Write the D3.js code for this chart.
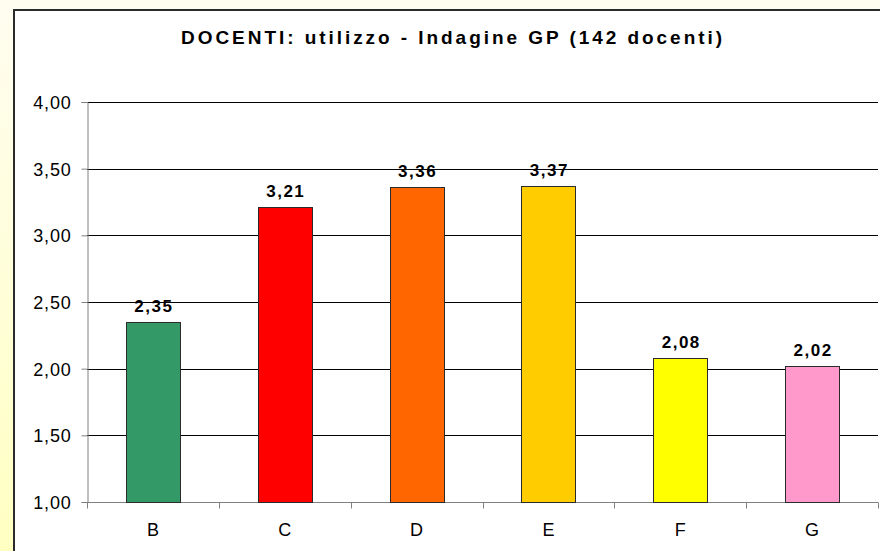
<!DOCTYPE html>
<html>
<head>
<meta charset="utf-8">
<script src="https://cdn.jsdelivr.net/npm/d3@7"></script>
<style>
  html, body { margin: 0; padding: 0; background: #fffff0; }
  svg { display: block; }
</style>
</head>
<body>
<div id="chart"></div>
<script>
// data
const categories = ["B", "C", "D", "E", "F", "G"];
const values = [2.35, 3.21, 3.36, 3.37, 2.08, 2.02];
const barColors = ["#339966", "#ff0000", "#ff6600", "#ffcc00", "#ffff00", "#ff99cc"];
const yTicks = [1.0, 1.5, 2.0, 2.5, 3.0, 3.5, 4.0];
const titleText = "DOCENTI: utilizzo - Indagine GP (142 docenti)";

const width = 880, height = 551;
const margin = { left: 87, right: 2, top: 102, bottom: 49 };
const font = "'Liberation Sans', Arial, sans-serif";

const svg = d3.select("#chart").append("svg")
    .attr("width", width)
    .attr("height", height);

// yellowish page background
const defs = svg.append("defs");
const grad = defs.append("linearGradient")
    .attr("id", "bg")
    .attr("x1", 0).attr("y1", 0).attr("x2", 0).attr("y2", 1);
grad.append("stop").attr("offset", "0%").attr("stop-color", "#fffdf0");
grad.append("stop").attr("offset", "100%").attr("stop-color", "#ffffc2");

svg.append("rect")
    .attr("width", width).attr("height", height)
    .attr("fill", "url(#bg)");

// white chart box (runs off the right and bottom edge)
svg.append("rect")
    .attr("x", 14).attr("y", 10)
    .attr("width", width + 20).attr("height", height + 20)
    .attr("fill", "#ffffff")
    .attr("stroke", "#2b2b2b")
    .attr("stroke-width", 2);

const x = d3.scaleBand()
    .domain(categories)
    .range([margin.left, width - margin.right])
    .padding(0);

const y = d3.scaleLinear()
    .domain([1, 4])
    .range([height - margin.bottom, margin.top]);

const barW = x.bandwidth() * 0.41;

// gridlines
svg.append("g")
    .selectAll("line")
    .data(yTicks.filter(d => d > 1))
    .join("line")
    .attr("x1", margin.left).attr("x2", width - margin.right)
    .attr("y1", d => Math.round(y(d)) + 0.5)
    .attr("y2", d => Math.round(y(d)) + 0.5)
    .attr("stroke", "#000")
    .attr("stroke-width", 1);

// y axis
const yAxis = svg.append("g")
    .attr("transform", `translate(${margin.left + 0.5},0)`)
    .call(d3.axisLeft(y)
        .tickValues(yTicks)
        .tickSize(6)
        .tickPadding(10)
        .tickFormat(d => d3.format(".2f")(d).replace(".", ",")));
yAxis.select(".domain").attr("stroke", "#808080");
yAxis.selectAll(".tick line").attr("stroke", "#808080");
yAxis.selectAll("text")
    .attr("fill", "#000")
    .attr("dy", "0.36em")
    .style("font-family", font)
    .style("font-size", "18px")
    .style("letter-spacing", "0.8px");

// x axis with ticks on the category boundaries
const xAxisG = svg.append("g")
    .attr("transform", `translate(0,${y(1) + 0.5})`);
xAxisG.append("line")
    .attr("x1", margin.left).attr("x2", width - margin.right)
    .attr("stroke", "#808080");
const edges = categories.map(c => x(c)).concat([x(categories[categories.length - 1]) + x.bandwidth()]);
xAxisG.selectAll("line.edge")
    .data(edges)
    .join("line")
    .attr("class", "edge")
    .attr("x1", d => Math.round(d) + 0.5).attr("x2", d => Math.round(d) + 0.5)
    .attr("y1", 0).attr("y2", 6)
    .attr("stroke", "#808080");
xAxisG.selectAll("text")
    .data(categories)
    .join("text")
    .attr("x", d => x(d) + x.bandwidth() / 2)
    .attr("y", 33)
    .attr("text-anchor", "middle")
    .style("font-family", font)
    .style("font-size", "18px")
    .text(d => d);

// bars
svg.append("g")
    .selectAll("rect")
    .data(values)
    .join("rect")
    .attr("x", (d, i) => Math.round(x(categories[i]) + (x.bandwidth() - barW) / 2) + 0.5)
    .attr("y", d => Math.round(y(d)) + 0.5)
    .attr("width", Math.round(barW))
    .attr("height", d => Math.round(y(1)) - Math.round(y(d)))
    .attr("fill", (d, i) => barColors[i])
    .attr("stroke", "#2b2b2b")
    .attr("stroke-width", 1);

// value labels
svg.append("g")
    .selectAll("text")
    .data(values)
    .join("text")
    .attr("x", (d, i) => x(categories[i]) + x.bandwidth() / 2 + 1)
    .attr("y", d => y(d) - 10)
    .attr("text-anchor", "middle")
    .style("font-family", font)
    .style("font-weight", "bold")
    .style("font-size", "17px")
    .style("letter-spacing", "1.5px")
    .text(d => d3.format(".2f")(d).replace(".", ","));

// title
svg.append("text")
    .attr("x", 181)
    .attr("y", 44)
    .attr("textLength", 541)
    .attr("lengthAdjust", "spacing")
    .style("font-family", font)
    .style("font-weight", "bold")
    .style("font-size", "19px")
    .text(titleText);
</script>
</body>
</html>
